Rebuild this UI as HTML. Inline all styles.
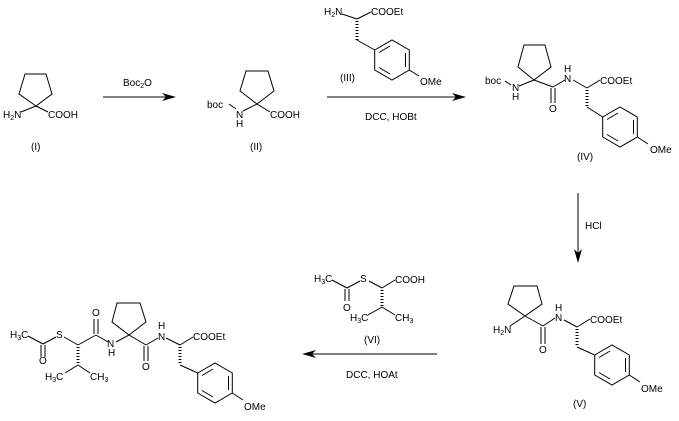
<!DOCTYPE html>
<html><head><meta charset="utf-8"><style>
html,body{margin:0;padding:0;background:#fff;}
svg{display:block}
text{font-family:"Liberation Sans",Arial,sans-serif;font-size:10px;fill:#000}
.s{font-size:7px}
</style></head><body>
<svg width="679" height="421" viewBox="0 0 679 421" xmlns="http://www.w3.org/2000/svg">
<defs>
<g id="ring" fill="none" stroke="#000" stroke-width="1">
<polygon points="-17.3,-10 0,-20 17.3,-10 17.3,10 0,20 -17.3,10"/>
<line x1="-13" y1="-7.5" x2="-2" y2="-14"/>
<line x1="13.5" y1="-7" x2="13.5" y2="7"/>
<line x1="-2" y1="14" x2="-13" y2="7.5"/>
</g>
</defs>
<g fill="none" stroke="#000" stroke-width="1">
<!-- I -->
<polygon points="36,106 19,94 25,74 46,74 52,94"/>
<line x1="36" y1="106" x2="21" y2="112"/><line x1="36" y1="106" x2="48" y2="112"/>
<!-- arrow1 -->
<line x1="103" y1="97" x2="170" y2="97"/>
<!-- II -->
<polygon points="257,104 240,91 246,71 268,71 274,91"/>
<line x1="229" y1="104" x2="236" y2="109"/><line x1="243" y1="111" x2="257" y2="104"/><line x1="257" y1="104" x2="270" y2="112"/>
<!-- arrow2 -->
<line x1="327" y1="97" x2="460" y2="97"/>
<!-- III -->
<line x1="342" y1="14" x2="357" y2="19"/><line x1="357" y1="19" x2="371" y2="12"/>
<line x1="357" y1="21" x2="357" y2="40" stroke-width="3" stroke-dasharray="1,2"/>
<line x1="357" y1="40" x2="374.7" y2="50"/><line x1="409.3" y1="70" x2="419" y2="76"/>
<!-- IV -->
<polygon points="534,80 518,67 524,45 545,45 551,67"/>
<line x1="505" y1="81" x2="511" y2="85"/><line x1="519" y1="86" x2="534" y2="80"/>
<line x1="534" y1="80" x2="553" y2="87"/>
<line x1="551" y1="88" x2="551" y2="103"/><line x1="555" y1="88" x2="555" y2="103"/>
<line x1="553" y1="87" x2="565" y2="80"/><line x1="573" y1="80" x2="587" y2="88"/><line x1="587" y1="88" x2="600" y2="80"/>
<line x1="587" y1="90" x2="587" y2="107" stroke-width="3" stroke-dasharray="1,2"/>
<line x1="587" y1="107" x2="602.7" y2="117"/><line x1="637.3" y1="137" x2="648" y2="144"/>
<!-- HCl arrow -->
<line x1="578" y1="193" x2="578" y2="257"/>
<!-- V -->
<polygon points="525,316 508,304 514,286 537,286 542,304"/>
<line x1="510" y1="326" x2="525" y2="316"/><line x1="525" y1="316" x2="543" y2="326"/>
<line x1="541" y1="327" x2="541" y2="344"/><line x1="545" y1="327" x2="545" y2="344"/>
<line x1="543" y1="326" x2="555" y2="318"/><line x1="564" y1="320" x2="577" y2="327"/><line x1="577" y1="327" x2="590" y2="319"/>
<line x1="577" y1="329" x2="577" y2="347" stroke-width="3" stroke-dasharray="1,2"/>
<line x1="577" y1="347" x2="594.7" y2="355"/><line x1="629.3" y1="375" x2="640" y2="382"/>
<!-- bottom arrow -->
<line x1="437" y1="354" x2="308" y2="354"/>
<!-- VI -->
<line x1="332" y1="280" x2="347" y2="288"/>
<line x1="345" y1="289" x2="345" y2="301"/><line x1="349" y1="289" x2="349" y2="301"/>
<line x1="347" y1="288" x2="360" y2="281"/><line x1="369" y1="281" x2="382" y2="288"/><line x1="382" y1="288" x2="395" y2="280"/>
<line x1="382" y1="290" x2="382" y2="307" stroke-width="3" stroke-dasharray="1,2"/>
<line x1="382" y1="307" x2="368" y2="315"/><line x1="382" y1="307" x2="395" y2="315"/>
<!-- product -->
<polygon points="129,335 112,322 117,303 140,303 146,322"/>
<line x1="28" y1="336" x2="43" y2="344"/>
<line x1="41" y1="345" x2="41" y2="357"/><line x1="45" y1="345" x2="45" y2="357"/>
<line x1="43" y1="344" x2="56" y2="337"/><line x1="64" y1="337" x2="78" y2="345"/>
<line x1="78" y1="347" x2="78" y2="365" stroke-width="3" stroke-dasharray="1,2"/>
<line x1="78" y1="365" x2="65" y2="373"/><line x1="78" y1="365" x2="90" y2="373"/>
<line x1="78" y1="345" x2="96" y2="335"/>
<line x1="94" y1="334" x2="94" y2="319"/><line x1="98" y1="334" x2="98" y2="319"/>
<line x1="96" y1="335" x2="108" y2="342"/><line x1="116" y1="342" x2="129" y2="335"/>
<line x1="129" y1="335" x2="146" y2="345"/>
<line x1="144" y1="346" x2="144" y2="361"/><line x1="148" y1="346" x2="148" y2="361"/>
<line x1="146" y1="345" x2="158" y2="338"/><line x1="166" y1="338" x2="180" y2="345"/><line x1="180" y1="345" x2="193" y2="337"/>
<line x1="180" y1="347" x2="180" y2="365" stroke-width="3" stroke-dasharray="1,2"/>
<line x1="180" y1="365" x2="197.7" y2="373"/><line x1="232.3" y1="393" x2="243" y2="400"/>
</g>
<!-- arrowheads -->
<g fill="#000">
<polygon points="176,97 162,93 166,97 162,101"/>
<polygon points="466,97 452,93 456,97 452,101"/>
<polygon points="578,263 574,249 578,253 582,249"/>
<polygon points="302,354 316,350 312,354 316,358"/>
</g>
<use href="#ring" x="392" y="60"/>
<use href="#ring" x="620" y="127"/>
<use href="#ring" x="612" y="365"/>
<use href="#ring" x="215" y="383"/>
<!-- text -->
<text x="3" y="118">H<tspan class="s" dy="2">2</tspan><tspan dy="-2">N</tspan></text>
<text x="48" y="118">COOH</text>
<text x="31" y="150">(I)</text>
<text x="123" y="86">Boc<tspan class="s" dy="2">2</tspan><tspan dy="-2">O</tspan></text>
<text x="207" y="108">boc</text>
<text x="236" y="118">N</text><text x="236" y="127">H</text>
<text x="270" y="118">COOH</text>
<text x="250" y="150">(II)</text>
<text x="324" y="15">H<tspan class="s" dy="2">2</tspan><tspan dy="-2">N</tspan></text>
<text x="371" y="15">COOEt</text>
<text x="340" y="81">(III)</text>
<text x="420" y="85">OMe</text>
<text x="365" y="120">DCC, HOBt</text>
<text x="485" y="84">boc</text>
<text x="512" y="91">N</text><text x="512" y="100">H</text>
<text x="549" y="112">O</text>
<text x="564" y="82">N</text><text x="564" y="72">H</text>
<text x="600" y="84">COOEt</text>
<text x="650" y="153">OMe</text>
<text x="577" y="160">(IV)</text>
<text x="585" y="229">HCl</text>
<text x="493" y="333">H<tspan class="s" dy="2">2</tspan><tspan dy="-2">N</tspan></text>
<text x="539" y="353">O</text>
<text x="555" y="321">N</text><text x="555" y="311">H</text>
<text x="590" y="323">COOEt</text>
<text x="641" y="392">OMe</text>
<text x="573" y="407">(V)</text>
<text x="346" y="378">DCC, HOAt</text>
<text x="314" y="282">H<tspan class="s" dy="2">3</tspan><tspan dy="-2">C</tspan></text>
<text x="343" y="311">O</text>
<text x="360" y="282">S</text>
<text x="395" y="283">COOH</text>
<text x="350" y="321">H<tspan class="s" dy="2">3</tspan><tspan dy="-2">C</tspan></text>
<text x="395" y="321">CH<tspan class="s" dy="2">3</tspan></text>
<text x="364" y="343">(VI)</text>
<text x="10" y="338">H<tspan class="s" dy="2">3</tspan><tspan dy="-2">C</tspan></text>
<text x="39" y="364">O</text>
<text x="56" y="338">S</text>
<text x="45" y="380">H<tspan class="s" dy="2">3</tspan><tspan dy="-2">C</tspan></text>
<text x="90" y="380">CH<tspan class="s" dy="2">3</tspan></text>
<text x="92" y="316">O</text>
<text x="107" y="347">N</text><text x="108" y="356">H</text>
<text x="142" y="370">O</text>
<text x="158" y="340">N</text><text x="158" y="329">H</text>
<text x="193" y="340">COOEt</text>
<text x="244" y="410">OMe</text>
</svg>
</body></html>
